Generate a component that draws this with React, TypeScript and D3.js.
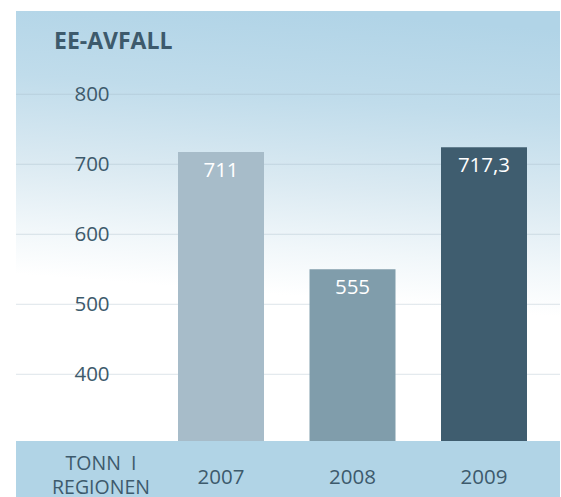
import React from "react";
import * as d3 from "d3";

const categories = ["2007", "2008", "2009"];
const values = [711, 555, 717.3];
const valueLabels = ["711", "555", "717,3"];
const tickValues = [400, 500, 600, 700, 800];
const barColors = ["#a7bcc9", "#809dab", "#3f5d6f"];
const title = "EE-AVFALL";
const unitLines = ["TONN  I", "REGIONEN"];

const W = 561;
const H = 497;

export default function App() {
  const panel = { x: 16, y: 11, w: 544, bandTop: 441 };
  const yGrid = d3.scaleLinear().domain([300, 800]).range([444.3, 94.3]);
  const yBar = d3.scaleLinear().domain([326.5, 711]).range([441, 152]);
  const x = d3.scaleBand<string>().domain(categories).range([178, 527]).paddingInner(0.346).paddingOuter(0);
  const textColor = "#3d5a6c";
  const font = "'Open Sans', 'Noto Sans', sans-serif";

  return (
    <svg width={W} height={H} style={{ position: "absolute", left: 0, top: 0 }} fontFamily={font}>
      <defs>
        <linearGradient id="bg" x1="0.55" y1="0" x2="0.45" y2="1">
          <stop offset="0" stopColor="#b1d4e7" />
          <stop offset="0.2" stopColor="#c0dceb" />
          <stop offset="0.4" stopColor="#dbeaf2" />
          <stop offset="0.55" stopColor="#f1f7fa" />
          <stop offset="0.66" stopColor="#ffffff" />
          <stop offset="1" stopColor="#ffffff" />
        </linearGradient>
      </defs>
      <rect x={0} y={0} width={W} height={H} fill="#ffffff" />
      <rect x={panel.x} y={panel.y} width={panel.w} height={panel.bandTop - panel.y} fill="url(#bg)" />
      {tickValues.map((t) => (
        <line
          key={"g" + t}
          x1={panel.x}
          x2={panel.x + panel.w}
          y1={yGrid(t)}
          y2={yGrid(t)}
          stroke="#9fb4c2"
          strokeOpacity={0.35}
          strokeWidth={1}
        />
      ))}
      {tickValues.map((t) => (
        <text key={"t" + t} x={92} y={yGrid(t)} dy="0.35em" textAnchor="middle" fontSize={20.5} fill={textColor}>
          {t}
        </text>
      ))}
      <text x={54} y={49} fontSize={23} fontWeight={700} fill={textColor}>
        {title}
      </text>
      {categories.map((c, i) => (
        <g key={c}>
          <rect
            x={x(c)}
            y={yBar(values[i])}
            width={x.bandwidth()}
            height={panel.bandTop - yBar(values[i])}
            fill={barColors[i]}
          />
          <text
            x={(x(c) as number) + x.bandwidth() / 2}
            y={yBar(values[i]) + 25}
            textAnchor="middle"
            fontSize={20.5}
            fill="#ffffff"
          >
            {valueLabels[i]}
          </text>
        </g>
      ))}
      <rect x={panel.x} y={panel.bandTop} width={panel.w} height={H - panel.bandTop} fill="#b1d4e6" />
      {unitLines.map((l, i) => (
        <text
          key={l}
          x={101}
          y={470 + i * 24}
          textAnchor="middle"
          fontSize={19.5}
          fill={textColor}
          style={{ whiteSpace: "pre" }}
        >
          {l}
        </text>
      ))}
      {categories.map((c) => (
        <text
          key={"c" + c}
          x={(x(c) as number) + x.bandwidth() / 2}
          y={484}
          textAnchor="middle"
          fontSize={20.5}
          fill={textColor}
        >
          {c}
        </text>
      ))}
    </svg>
  );
}
